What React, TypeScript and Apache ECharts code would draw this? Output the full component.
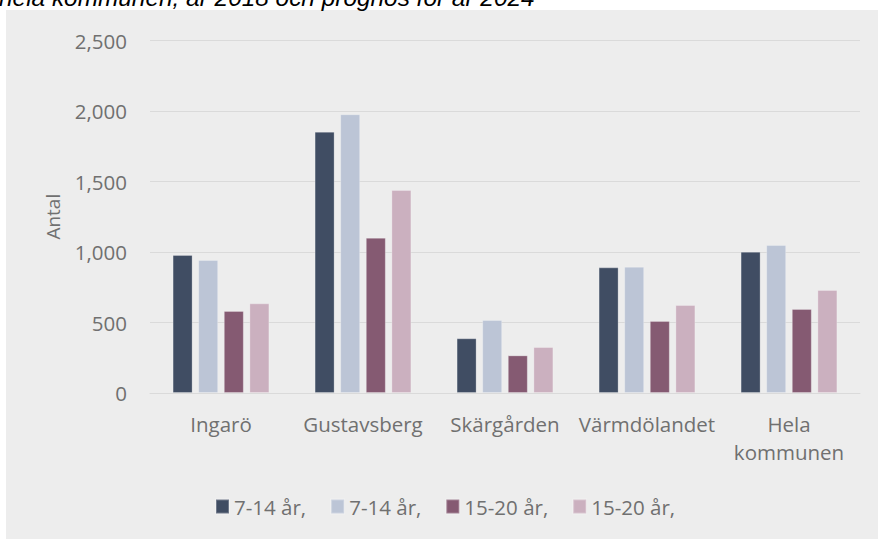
import React, { useEffect, useRef } from "react";
import * as echarts from "echarts";

const categories = ["Ingarö", "Gustavsberg", "Skärgården", "Värmdölandet", "Hela kommunen"];
const seriesKeys = ["7-14 år, 2018", "7-14 år, 2024", "15-20 år, 2018", "15-20 år, 2024"];
const legendLabels = ["7-14 år,", "7-14 år,", "15-20 år,", "15-20 år,"];
const age7to14y2018 = [979, 1853, 388, 891, 1002];
const age7to14y2024 = [943, 1977, 518, 896, 1050];
const age15to20y2018 = [582, 1101, 267, 511, 596];
const age15to20y2024 = [636, 1440, 326, 624, 731];
const seriesValues = [age7to14y2018, age7to14y2024, age15to20y2018, age15to20y2024];
const seriesColors = ["#404D63", "#BCC5D6", "#855A72", "#CBB0BF"];
const titleText = "hela kommunen, år 2018 och prognos för år 2024";
const yAxisName = "Antal";

const FONT = "'Open Sans', 'Noto Sans', sans-serif";
const TXT = "#707070";

export default function App() {
  const ref = useRef<HTMLDivElement>(null);
  useEffect(() => {
    if (!ref.current) return;
    const chart = echarts.init(ref.current, undefined, { renderer: "svg" });
    const labelMap: Record<string, string> = {};
    seriesKeys.forEach((k, i) => (labelMap[k] = legendLabels[i]));
    chart.setOption({
      animation: false,
      backgroundColor: "#ffffff",
      textStyle: { fontFamily: FONT },
      graphic: [
        {
          type: "rect",
          z: -10,
          silent: true,
          shape: { x: 6, y: 10, width: 872, height: 529 },
          style: { fill: "#EDEDED" },
        },
        {
          type: "text",
          x: -1,
          y: -2.5,
          style: {
            text: titleText,
            font: "italic 24.4px 'Liberation Sans', Arial, sans-serif",
            fill: "#000000",
            textAlign: "left",
            textVerticalAlign: "middle",
          },
        },
        {
          type: "text",
          x: 52.5,
          y: 216.7,
          rotation: Math.PI / 2,
          style: {
            text: yAxisName,
            font: `19px ${FONT}`,
            fill: TXT,
            textAlign: "center",
            textVerticalAlign: "middle",
          },
        },
      ],
      grid: { left: 150, right: 18, top: 40.5, bottom: 146, containLabel: false },
      legend: {
        left: 210,
        top: 491,
        icon: "rect",
        itemWidth: 13,
        itemHeight: 14,
        itemGap: 24,
        data: seriesKeys,
        formatter: (name: string) => labelMap[name] ?? name,
        textStyle: { color: TXT, fontSize: 20.5, fontFamily: FONT },
      },
      xAxis: {
        type: "category",
        data: categories,
        axisLine: { show: true, lineStyle: { color: "#DADADA", width: 1 } },
        axisTick: { show: false },
        axisLabel: {
          color: TXT,
          fontSize: 20.5,
          fontFamily: FONT,
          margin: 17,
          lineHeight: 28,
          interval: 0,
          formatter: (v: string) => v.replace(" ", "\n"),
        },
      },
      yAxis: {
        type: "value",
        min: 0,
        max: 2500,
        interval: 500,
        axisLine: { show: false },
        axisTick: { show: false },
        splitLine: { lineStyle: { color: "#DADADA", width: 1 } },
        axisLabel: {
          color: TXT,
          fontSize: 20.5,
          fontFamily: FONT,
          margin: 23,
          formatter: (v: number) => v.toLocaleString("en-US"),
        },
      },
      series: seriesKeys.map((name, i) => ({
        name,
        type: "bar",
        data: seriesValues[i],
        barWidth: 20,
        barGap: "28%",
        itemStyle: {
          color: seriesColors[i],
          borderColor: "rgba(255,255,255,0.25)",
          borderWidth: 1,
        },
      })),
    });
    return () => chart.dispose();
  }, []);
  return (
    <div
      ref={ref}
      style={{ position: "fixed", left: 0, top: 0, width: 878, height: 539 }}
    />
  );
}
